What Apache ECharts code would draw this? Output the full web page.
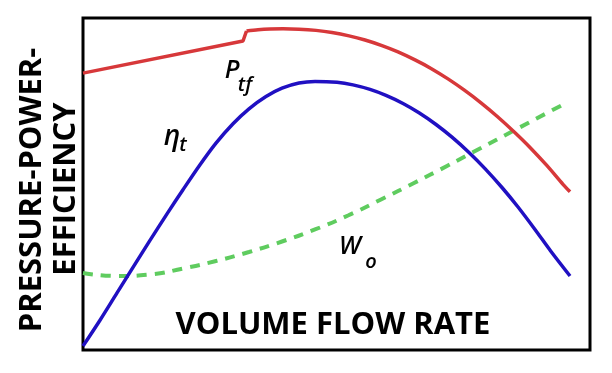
<!DOCTYPE html>
<html>
<head>
<meta charset="utf-8">
<script src="https://cdn.jsdelivr.net/npm/echarts@6/dist/echarts.min.js"></script>
<style>
html,body{margin:0;padding:0;background:#fff;}
#c{width:612px;height:373px;}
</style>
</head>
<body>
<div id="c"></div>
<script>
// Pressure / power curve (rising straight part with a small step)
const redRiseX = [0, 31.56, 32.25];
const redRiseY = [83.4, 93.07, 96.08];
// Pressure / power curve (curved part after the step)
const redCurveX = [32.25, 34.52, 36.88, 39.45, 42.60, 45.96, 49.11, 52.47, 55.62, 58.97, 62.13, 65.48, 68.64, 71.99, 75.15, 78.50, 81.66, 85.01, 88.17, 91.52, 94.67, 96.06];
const redCurveY = [96.08, 96.44, 96.66, 96.75, 96.64, 96.27, 95.63, 94.62, 93.37, 91.69, 89.79, 87.38, 84.82, 81.66, 78.34, 74.46, 70.42, 65.75, 61.02, 55.51, 49.91, 47.65];
// Efficiency curve
const blueX = [0, 3.35, 6.71, 9.86, 13.21, 16.57, 19.72, 23.08, 26.23, 29.59, 32.74, 36.09, 39.25, 42.60, 45.76, 50.10, 53.25, 56.61, 59.76, 63.12, 66.27, 69.63, 72.78, 76.13, 79.29, 82.64, 85.80, 89.15, 92.31, 96.06];
const blueY = [1.2, 8.98, 17.20, 24.88, 33.01, 40.99, 48.28, 55.81, 62.32, 68.16, 72.65, 76.36, 78.86, 80.42, 80.90, 80.63, 79.85, 78.49, 76.69, 74.25, 71.45, 67.92, 64.10, 59.49, 54.64, 48.95, 43.07, 36.30, 29.67, 22.29];
// Work curve (dashed)
const greenX = [0, 6.71, 13.21, 19.72, 26.23, 32.74, 39.25, 45.76, 52.27, 58.78, 65.29, 71.79, 78.30, 84.81, 91.32, 95.46];
const greenY = [23.19, 22.29, 22.74, 24.55, 26.81, 29.52, 32.68, 36.30, 40.51, 45.33, 50.30, 55.42, 60.69, 65.96, 71.23, 74.55];

const xTitle = 'VOLUME FLOW RATE';
const yTitleLines = ['PRESSURE-POWER-', 'EFFICIENCY'];

const pair = (xs, ys) => xs.map((x, i) => [x, ys[i]]);

const RED = '#d7383a', BLUE = '#2010c2', GREEN = '#5fcc5f';
const FONT = 'Open Sans';

const chart = echarts.init(document.getElementById('c'), null, {renderer: 'canvas'});
chart.setOption({
  animation: false,
  backgroundColor: '#fff',
  grid: {left: 83, right: 22, top: 18, bottom: 23, show: true, borderColor: '#000', borderWidth: 3, backgroundColor: 'transparent'},
  xAxis: {type: 'value', min: 0, max: 100, axisLine: {show: false}, axisTick: {show: false}, axisLabel: {show: false}, splitLine: {show: false}},
  yAxis: {type: 'value', min: 0, max: 100, axisLine: {show: false}, axisTick: {show: false}, axisLabel: {show: false}, splitLine: {show: false}},
  series: [
    {type: 'line', data: pair(greenX, greenY), smooth: 0.5, showSymbol: false,
     lineStyle: {color: GREEN, width: 4, type: [10, 8]}},
    {type: 'line', data: pair(redRiseX, redRiseY), smooth: false, showSymbol: false,
     lineStyle: {color: RED, width: 3.5}},
    {type: 'line', data: pair(redCurveX, redCurveY), smooth: 0.3, showSymbol: false,
     lineStyle: {color: RED, width: 3.5}},
    {type: 'line', data: pair(blueX, blueY), smooth: 0.3, showSymbol: false,
     lineStyle: {color: BLUE, width: 3.5}}
  ],
  graphic: [
    {type: 'text', x: 333, y: 325, style: {text: xTitle, font: `bold 31px "${FONT}"`, fill: '#000', textAlign: 'center', textVerticalAlign: 'middle'}},
    {type: 'text', x: 32, y: 190, rotation: Math.PI / 2, style: {text: yTitleLines[0], font: `bold 31px "${FONT}"`, fill: '#000', textAlign: 'center', textVerticalAlign: 'middle'}},
    {type: 'text', x: 66, y: 189, rotation: Math.PI / 2, style: {text: yTitleLines[1], font: `bold 31px "${FONT}"`, fill: '#000', textAlign: 'center', textVerticalAlign: 'middle'}},
    {type: 'text', x: 232, y: 71, style: {text: 'P', font: `italic 600 25px "${FONT}"`, fill: '#000', textAlign: 'center', textVerticalAlign: 'middle'}},
    {type: 'text', x: 245, y: 85, style: {text: 'tf', font: `italic 600 20px "${FONT}"`, fill: '#000', textAlign: 'center', textVerticalAlign: 'middle'}},
    {type: 'text', x: 172, y: 137, style: {text: 'η', font: `italic 600 28px "${FONT}"`, fill: '#000', textAlign: 'center', textVerticalAlign: 'middle'}},
    {type: 'text', x: 183, y: 145, style: {text: 't', font: `italic 600 20px "${FONT}"`, fill: '#000', textAlign: 'center', textVerticalAlign: 'middle'}},
    {type: 'text', x: 350, y: 247, style: {text: 'W', font: `italic 600 25px "${FONT}"`, fill: '#000', textAlign: 'center', textVerticalAlign: 'middle'}},
    {type: 'text', x: 371, y: 262, style: {text: 'o', font: `italic 600 20px "${FONT}"`, fill: '#000', textAlign: 'center', textVerticalAlign: 'middle'}}
  ]
});
</script>
</body>
</html>
